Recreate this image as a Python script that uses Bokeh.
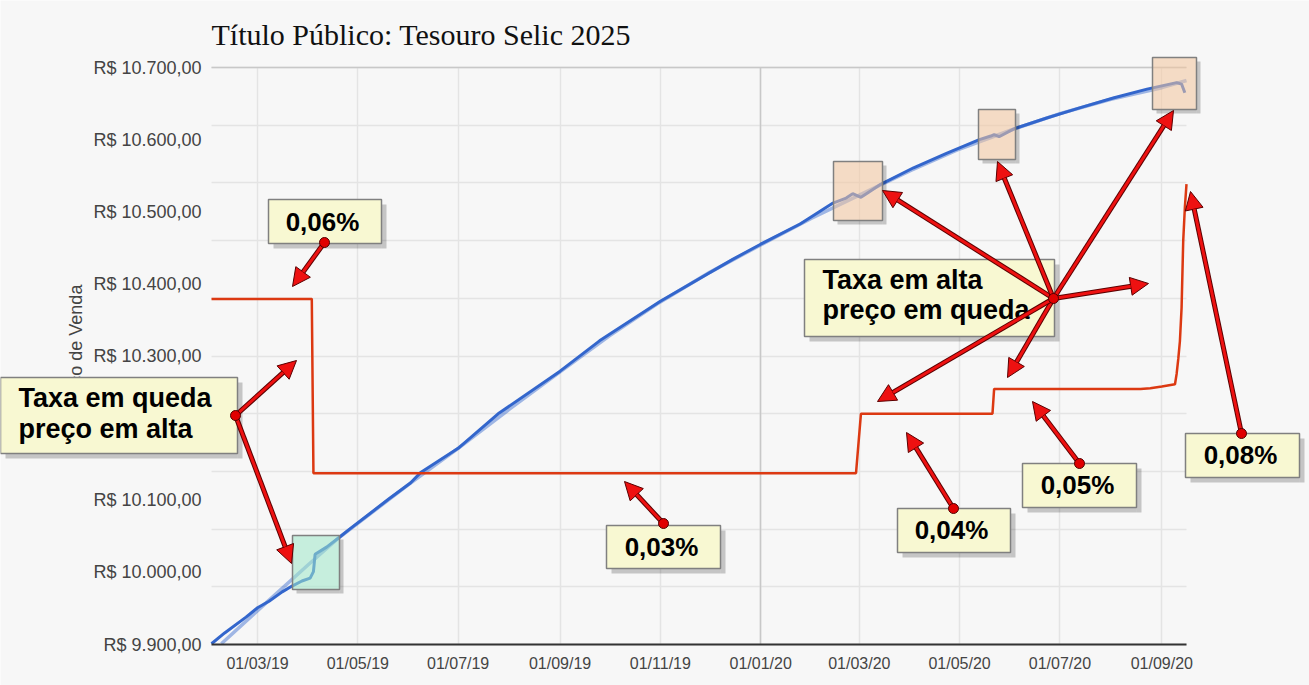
import math
from datetime import datetime

from bokeh.plotting import figure
from bokeh.models import (Range1d, FixedTicker, DatetimeTickFormatter, Grid,
                          BoxAnnotation, Label, Arrow, NormalHead)
from bokeh.embed import file_html
from bokeh.resources import INLINE

# Preço de venda (linha escura)
price_dates = ["2019-02-01", "2019-02-09", "2019-02-22", "2019-03-01", "2019-03-08",
               "2019-03-16", "2019-03-22", "2019-03-28", "2019-04-02", "2019-04-04",
               "2019-04-05", "2019-04-12", "2019-04-20", "2019-04-26", "2019-05-08",
               "2019-05-20", "2019-06-02", "2019-06-08", "2019-07-01", "2019-07-26",
               "2019-09-01", "2019-09-25", "2019-11-01", "2019-12-15", "2020-01-01",
               "2020-01-25", "2020-02-14", "2020-02-22", "2020-02-26", "2020-03-02",
               "2020-03-06", "2020-03-14", "2020-04-03", "2020-04-23", "2020-05-13",
               "2020-05-20", "2020-05-22", "2020-05-25", "2020-06-03", "2020-06-23",
               "2020-07-13", "2020-08-03", "2020-08-23", "2020-09-10", "2020-09-13",
               "2020-09-15"]
price_values = [9901, 9916, 9938, 9951, 9960,
                9973, 9981, 9988, 9992, 10001,
                10025, 10035, 10049, 10060, 10081,
                10102, 10124, 10138, 10172, 10221,
                10279, 10321, 10376, 10434, 10455,
                10483, 10512, 10519, 10525, 10520,
                10526, 10538, 10561, 10581, 10600,
                10605, 10607, 10604, 10615, 10630,
                10644, 10658, 10670, 10679, 10677,
                10665]

# linha de tendência (azul claro)
trend_dates = ["2019-02-07", "2019-03-01", "2019-04-01", "2019-04-20", "2019-06-01",
               "2019-07-01", "2019-08-01", "2019-09-01", "2019-10-01", "2019-11-01",
               "2019-12-01", "2020-01-01", "2020-02-01", "2020-03-01", "2020-04-01",
               "2020-05-01", "2020-06-01", "2020-07-01", "2020-08-01", "2020-09-01",
               "2020-09-16"]
trend_values = [9901, 9947, 10011, 10049, 10122,
                10172, 10226, 10278, 10328, 10375,
                10416, 10454, 10491, 10523, 10557,
                10587, 10613, 10636, 10656, 10672,
                10682]

# taxa (%), eixo secundário
taxa_dates = ["2019-02-01", "2019-04-03", "2019-04-04", "2020-02-28", "2020-03-02",
              "2020-05-21", "2020-05-22", "2020-08-19", "2020-08-25", "2020-09-01",
              "2020-09-09", "2020-09-10", "2020-09-11", "2020-09-12", "2020-09-13",
              "2020-09-14", "2020-09-15", "2020-09-16"]
taxa_values = [0.0599, 0.0599, 0.0297, 0.0297, 0.0400,
               0.0400, 0.0443, 0.0443, 0.0444, 0.0447,
               0.0451, 0.0469, 0.0495, 0.0526, 0.0583,
               0.0699, 0.0757, 0.0798]

price_ticks = [9900, 10000, 10100, 10200, 10300, 10400, 10500, 10600, 10700]
taxa_grid = [0.00, 0.01, 0.02, 0.03, 0.04, 0.05, 0.06, 0.07, 0.08, 0.09, 0.10]
date_ticks = ["2019-03-01", "2019-05-01", "2019-07-01", "2019-09-01", "2019-11-01",
              "2020-01-01", "2020-03-01", "2020-05-01", "2020-07-01", "2020-09-01"]
first_day, last_day = "2019-02-01", "2020-09-16"
year_start = "2020-01-01"


def d(s):
    return datetime.strptime(s, "%Y-%m-%d")


def ms(s):
    return (d(s) - datetime(1970, 1, 1)).total_seconds() * 1000


def brl(v):
    return "R$ " + f"{v:,.2f}".replace(",", "X").replace(".", ",").replace("X", ".")


# a área de dados ocupa x 211..1186 e y 67..644 da página; o quadro cobre tudo,
# para que as caixas e setas possam sair da área de dados
W, H = 1309, 685
X0, X1, Y0, Y1 = 211, 1186, 644, 67
t0, t1 = ms(first_day), ms(last_day)
kx = (t1 - t0) / (X1 - X0)
ky = (price_ticks[-1] - price_ticks[0]) / (Y0 - Y1)
kt = (taxa_grid[-1] - taxa_grid[0]) / (Y0 - Y1)

p = figure(x_axis_type="datetime", title=None,
           x_range=Range1d(t0 - X0 * kx, t1 + (W - X1) * kx),
           y_range=Range1d(price_ticks[0] - (H - Y0) * ky, price_ticks[-1] + Y1 * ky),
           width=W, height=H, min_border=0,
           output_backend="svg", toolbar_location=None,
           background_fill_color="#f7f7f7", border_fill_color="#f7f7f7",
           outline_line_color=None)
p.extra_y_ranges = {"taxa": Range1d(taxa_grid[0] - (H - Y0) * kt, taxa_grid[-1] + Y1 * kt)}

# eixos
fmt = "%d/%m/%y"
p.xaxis.fixed_location = price_ticks[0]
p.xaxis.bounds = (t0, t1)
p.xaxis.ticker = FixedTicker(ticks=[ms(s) for s in date_ticks])
p.xaxis.formatter = DatetimeTickFormatter(days=fmt, months=fmt, years=fmt, hours=fmt,
                                          hourmin=fmt, minutes=fmt, minsec=fmt,
                                          seconds=fmt, milliseconds=fmt, microseconds=fmt)
p.xaxis.axis_line_color = "#333333"
p.xaxis.axis_line_width = 2
p.xaxis.major_tick_line_color = None
p.xaxis.minor_tick_line_color = None
p.xaxis.major_tick_out = 0
p.xaxis.minor_tick_out = 0
p.xaxis.major_label_standoff = 10
p.xaxis.major_label_text_font = "Liberation Sans"
p.xaxis.major_label_text_font_size = "16px"
p.xaxis.major_label_text_color = "#444444"

p.yaxis.fixed_location = t0
p.yaxis.bounds = (price_ticks[0], price_ticks[-1])
p.yaxis.ticker = FixedTicker(ticks=price_ticks)
p.yaxis.major_label_overrides = {v: brl(v) for v in price_ticks}
p.yaxis.axis_line_color = None
p.yaxis.major_tick_line_color = None
p.yaxis.minor_tick_line_color = None
p.yaxis.major_tick_out = 0
p.yaxis.minor_tick_out = 0
p.yaxis.major_label_standoff = 10
p.yaxis.major_label_text_font = "Liberation Sans"
p.yaxis.major_label_text_font_size = "18px"
p.yaxis.major_label_text_color = "#444444"

# grade horizontal vem do eixo da taxa (0 a 0,10%)
p.ygrid.ticker = FixedTicker(ticks=[price_ticks[0] + t / kt * ky for t in taxa_grid])
p.ygrid.cross_bounds = (t0, t1)
p.xgrid.cross_bounds = (price_ticks[0], price_ticks[-1])
p.grid.grid_line_color = "#e4e4e4"
p.grid.grid_line_width = 1.5
# linhas mais escuras: topo da escala e virada do ano
p.add_layout(Grid(dimension=1, ticker=FixedTicker(ticks=[price_ticks[-1]]),
                  cross_bounds=(t0, t1), grid_line_color="#c8c8c8", grid_line_width=1.5))
p.add_layout(Grid(dimension=0, ticker=FixedTicker(ticks=[ms(year_start)]),
                  cross_bounds=(price_ticks[0], price_ticks[-1]),
                  grid_line_color="#c8c8c8", grid_line_width=1.5))

# séries
p.line([d(s) for s in trend_dates], trend_values, line_color="#3366cc",
       line_alpha=0.45, line_width=3.5)
p.line([d(s) for s in price_dates], price_values, line_color="#3366cc", line_width=3)
p.line([d(s) for s in taxa_dates], taxa_values, line_color="#dc3912", line_width=2.5,
       y_range_name="taxa")


# ---- anotações, em pixels da página ----
def sx(px):
    return px


def sy(py):
    return H - py


def box(l, t, r, b, **kw):
    p.add_layout(BoxAnnotation(left=sx(l), right=sx(r), top=sy(t), bottom=sy(b),
                               left_units="screen", right_units="screen",
                               top_units="screen", bottom_units="screen", **kw))


def shadow(l, t, r, b, o=5):
    box(r, t + o, r + o, b + o, fill_color="black", fill_alpha=0.2, line_color=None)
    box(l + o, b, r, b + o, fill_color="black", fill_alpha=0.2, line_color=None)


def highlight(l, t, r, b, color):
    shadow(l, t, r, b, 4)
    box(l, t, r, b, fill_color=color, fill_alpha=0.55, line_color="#808080",
        line_alpha=1, line_width=1.5)


def callout(l, t, r, b):
    shadow(l, t, r, b)
    box(l, t, r, b, fill_color="#f8f8d2", fill_alpha=1, line_color="#808080",
        line_alpha=1, line_width=1.5)


def text(x, y, s, size=26, align="left", font="Liberation Sans", style="bold",
         color="black", angle=0):
    # o rótulo em bokeh fica ~0,38 em abaixo da linha de base pedida
    p.add_layout(Label(x=sx(x), y=sy(y) + 0.38 * size, x_units="screen",
                       y_units="screen", text=s, angle=angle,
                       text_font=font, text_font_style=style,
                       text_font_size=f"{size}px", text_align=align,
                       text_baseline="alphabetic", text_color=color))


def arrow(x0, y0, x1, y1):
    n = math.hypot(x1 - x0, y1 - y0)
    ux, uy = (x1 - x0) / n, (y1 - y0) / n
    p.add_layout(Arrow(x_start=sx(x0), y_start=sy(y0),
                       x_end=sx(x1 - ux * 14), y_end=sy(y1 - uy * 14),
                       start_units="screen", end_units="screen",
                       line_color="#5a0000", line_width=5, end=None))
    p.add_layout(Arrow(x_start=sx(x0), y_start=sy(y0), x_end=sx(x1), y_end=sy(y1),
                       start_units="screen", end_units="screen",
                       line_color="#ee1111", line_width=3,
                       end=NormalHead(size=18, fill_color="#ee1111",
                                      line_color="#5a0000", line_width=1)))


def dot(x, y, r=5):
    box(x - r, y - r, x + r, y + r, fill_color="#e00000", fill_alpha=1,
        line_color="#500000", line_alpha=1, line_width=1, border_radius=r)


# título e rótulo do eixo
text(211, 45, "Título Público: Tesouro Selic 2025", 30, font="Liberation Serif",
     style="normal", color="#111111")
text(75, 355, "Preço de Venda", 18, align="center", style="normal", color="#444444",
     angle=math.pi / 2)

# destaques
highlight(292, 535, 339, 589, "#9fe8c8")
highlight(833, 161, 882, 220, "#f3c49c")
highlight(978, 109, 1015, 159, "#f3c49c")
highlight(1152, 57, 1196, 109, "#f3c49c")

# caixas de texto
callout(268, 199, 381, 243)
text(322, 231, "0,06%", align="center")
callout(0, 377, 237, 453)
text(18, 408, "Taxa em queda", 27)
text(18, 439, "preço em alta", 27)
callout(606, 525, 720, 568)
text(661, 556, "0,03%", align="center")
callout(804, 259, 1054, 336)
text(822, 290, "Taxa em alta", 27)
text(822, 320, "preço em queda", 27)
callout(897, 508, 1010, 552)
text(951, 539, "0,04%", align="center")
callout(1022, 463, 1136, 507)
text(1077, 494, "0,05%", align="center")
callout(1185, 433, 1299, 477)
text(1240, 464, "0,08%", align="center")

# setas
arrow(324, 242, 292, 286)
arrow(235, 415, 296, 360)
arrow(235, 415, 291, 563)
arrow(663, 523, 624, 481)
arrow(1053, 298, 882, 190)
arrow(1053, 298, 997, 161)
arrow(1053, 298, 1173, 110)
arrow(1053, 298, 1148, 283)
arrow(1053, 298, 1007, 377)
arrow(1053, 298, 877, 401)
arrow(953, 508, 906, 432)
arrow(1079, 463, 1032, 401)
arrow(1241, 433, 1190, 191)

for x, y in [(324, 242), (235, 415), (663, 523), (1053, 298),
             (953, 508), (1079, 463), (1241, 433)]:
    dot(x, y)

open("out.html", "w").write(file_html(p, INLINE))
